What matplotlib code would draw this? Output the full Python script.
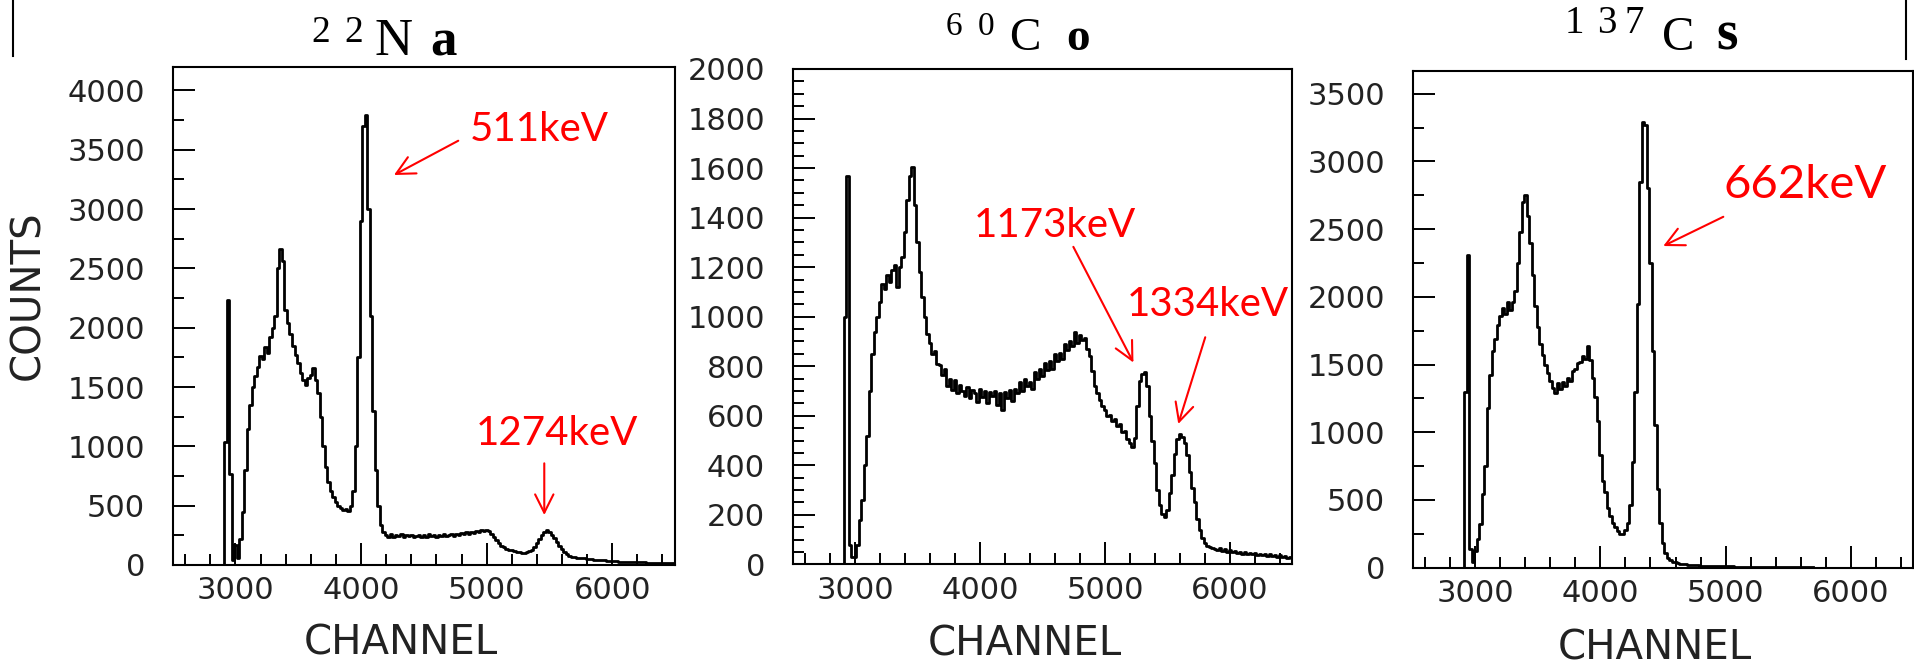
import numpy as np
import matplotlib
matplotlib.use('Agg')
from matplotlib import pyplot as plt
from matplotlib.ticker import MultipleLocator
from matplotlib.lines import Line2D

# spectra, 20-channel bins starting at channel 2900
first_channel = 2900
bin_width = 20

na_counts = [
    0, 1040, 2230, 770, 40, 170, 60, 220, 450, 800,            # 2900
    1150, 1350, 1500, 1590, 1670, 1760, 1740, 1840, 1790, 1920,  # 3100
    2000, 2100, 2500, 2660, 2560, 2150, 2040, 1950, 1850, 1770,  # 3300
    1700, 1620, 1560, 1520, 1580, 1600, 1660, 1560, 1450, 1250,  # 3500
    1000, 830, 700, 620, 575, 530, 500, 480, 460, 470,           # 3700
    455, 500, 620, 1000, 1750, 2900, 3700, 3790, 3000, 2100,     # 3900
    1300, 800, 500, 340, 275, 255, 240, 258, 236, 252,           # 4100
    244, 262, 238, 250, 242, 256, 235, 248, 255, 240,            # 4300
    252, 238, 258, 245, 250, 238, 255, 246, 260, 242,            # 4500
    250, 262, 248, 258, 252, 268, 260, 275, 265, 280,            # 4700
    272, 290, 278, 295, 285, 298, 285, 260, 238, 210,            # 4900
    185, 162, 150, 138, 128, 125, 118, 112, 108, 100,            # 5100
    104, 110, 118, 130, 155, 185, 215, 250, 275, 292,            # 5300
    280, 255, 225, 190, 160, 135, 110, 92, 78, 70,               # 5500
    66, 62, 60, 58, 56, 52, 50, 48, 46, 45,                      # 5700
    42, 40, 38, 36, 34, 32, 30, 30, 28, 28,                      # 5900
    27, 26, 25, 25, 24, 24, 23, 22, 22, 21,                      # 6100
    20, 20, 19, 18, 18, 17, 17, 16, 16, 15,                      # 6300
    15]

co_counts = [
    0, 1000, 1570, 80, 30, 30, 80, 180, 260, 400,                # 2900
    520, 700, 850, 940, 1000, 1060, 1130, 1110, 1170, 1140,      # 3100
    1190, 1210, 1120, 1200, 1240, 1340, 1470, 1570, 1605, 1450,  # 3300
    1300, 1180, 1080, 1000, 930, 895, 850, 860, 810, 805,        # 3500
    765, 790, 720, 750, 705, 745, 690, 725, 700, 680,            # 3700
    715, 670, 705, 690, 655, 710, 675, 700, 650, 695,            # 3900
    680, 700, 645, 690, 625, 695, 670, 705, 660, 710,            # 4100
    690, 735, 700, 750, 720, 735, 710, 775, 750, 790,            # 4300
    760, 815, 785, 820, 790, 850, 820, 855, 830, 890,            # 4500
    865, 900, 880, 940, 895, 925, 905, 915, 870, 840,            # 4700
    780, 720, 690, 665, 640, 625, 600, 605, 580, 585,            # 4900
    560, 565, 535, 540, 505, 490, 475, 510, 640, 740,            # 5100
    770, 775, 720, 600, 500, 410, 300, 240, 205, 190,            # 5300
    220, 290, 360, 445, 505, 525, 515, 490, 440, 375,            # 5500
    310, 250, 185, 140, 105, 85, 75, 70, 66, 64,                 # 5700
    60, 66, 55, 62, 52, 58, 50, 55, 46, 52,                      # 5900
    44, 50, 42, 48, 40, 45, 38, 44, 36, 42,                      # 6100
    35, 40, 33, 38, 30, 36, 28, 34, 27, 31,                      # 6300
    25]

cs_counts = [
    0, 1300, 2310, 140, 40, 120, 210, 320, 540, 750,             # 2900
    1180, 1420, 1600, 1690, 1790, 1860, 1920, 1870, 1960, 1900,  # 3100
    1960, 2040, 2250, 2480, 2700, 2750, 2600, 2400, 2160, 1930,  # 3300
    1780, 1650, 1570, 1500, 1440, 1380, 1330, 1290, 1360, 1320,  # 3500
    1370, 1340, 1400, 1380, 1450, 1470, 1510, 1520, 1560, 1540,  # 3700
    1640, 1530, 1400, 1260, 1080, 830, 640, 560, 440, 380,       # 3900
    330, 300, 270, 245, 250, 275, 330, 460, 780, 1300,           # 4100
    1950, 2850, 3290, 3270, 2800, 2250, 1600, 1050, 580, 330,    # 4300
    180, 110, 70, 55, 45, 40, 35, 30, 28, 25,                    # 4500
    22, 20, 18, 17, 16, 15, 14, 13, 12, 12,                      # 4700
    12, 11, 11, 10, 10, 10, 9, 9, 9, 8,                          # 4900
    8, 8, 8, 7, 7, 7, 7, 6, 6, 6,                                # 5100
    6, 6, 5, 5, 5, 5, 5, 5, 4, 4,                                # 5300
    4, 4, 4, 4, 4, 4, 4, 4, 3, 3,                                # 5500
    3]

ymax = [4200, 2000, 3670]
ymajor = [500, 200, 500]
yminor = [250, 50, 250]

# peak labels: (text, text x, text y, arrow tail, arrow head)
na_peaks = [('511keV', 4862, 3576, (4774, 3576), (4262, 3287)),
            ('1274keV', 4915, 1011, (5459, 857), (5459, 421))]
co_peaks = [('1173keV', 3950, 1320, (4747, 1282), (5228, 815)),
            ('1334keV', 5172, 1003, (5803, 917), (5587, 567))]
cs_peaks = [('662keV', 4982, 2727, (4982, 2591), (4502, 2375))]
peak_sizes = [29, 29, 34]

W, H = 1915, 665
fig = plt.figure(figsize=(W / 100, H / 100), dpi=100)

# axes boxes in pixels: left, top, right, bottom
boxes = [(172.7, 66.7, 675.0, 565.0),
         (792.7, 69.0, 1292.3, 564.4),
         (1412.7, 70.7, 1913.3, 567.6)]
channel_label_pos = [(0.4545, -0.157), (0.4646, -0.162), (0.483, -0.162)]

spectra = [na_counts, co_counts, cs_counts]
peaks = [na_peaks, co_peaks, cs_peaks]

for i in range(3):
    l, t, r, b = boxes[i]
    ax = fig.add_axes([l / W, (H - b) / H, (r - l) / W, (b - t) / H])
    counts = np.array(spectra[i])
    ch = first_channel + bin_width * np.arange(len(counts))
    ax.step(ch, counts, where='mid', color='black', lw=2.0)
    ax.set_xlim(2500, 6500)
    ax.set_ylim(0, ymax[i])
    ax.xaxis.set_major_locator(MultipleLocator(1000))
    ax.xaxis.set_minor_locator(MultipleLocator(200))
    ax.yaxis.set_major_locator(MultipleLocator(ymajor[i]))
    ax.yaxis.set_minor_locator(MultipleLocator(yminor[i]))
    ax.tick_params(which='both', direction='in', top=False, right=False,
                   width=1.4, color='black')
    ax.tick_params(which='major', length=15.8, labelsize=22, labelcolor='#222222')
    ax.tick_params(which='minor', length=7.9)
    ax.tick_params(axis='y', pad=20)
    ax.tick_params(axis='x', pad=8)
    for sp in ax.spines.values():
        sp.set_linewidth(1.5)
    cx, cy = channel_label_pos[i]
    ax.text(cx, cy, 'CHANNEL', transform=ax.transAxes, ha='center', va='center',
            fontsize=29, color='#222222')
    for label, tx, ty, tail, head in peaks[i]:
        ax.text(tx, ty, label, color='red', fontsize=peak_sizes[i], family='Lato',
                ha='left', va='baseline', clip_on=False)
        ax.annotate('', xy=head, xytext=tail, annotation_clip=False,
                    arrowprops=dict(arrowstyle='->,head_length=0.6,head_width=0.3',
                                    color='red', lw=1.5, mutation_scale=22,
                                    shrinkA=0, shrinkB=0))
    if i == 0:
        ax.text(-0.288, 0.542, 'COUNTS', transform=ax.transAxes, rotation=90,
                ha='center', va='center', fontsize=29, color='#222222')

# titles, piece by piece (superscript mass number + element symbol)
def put(x, y, s, size, weight='normal'):
    fig.text(x / W, 1 - y / H, s, fontsize=size, fontweight=weight,
             family='Liberation Serif', ha='left', va='baseline')

put(311, 42, '2', 27); put(344, 42, '2', 27)
put(374, 55, 'N', 38); put(430, 55, 'a', 38, 'bold')
put(946, 35, '6', 24); put(978, 35, '0', 24)
put(1009, 50, 'C', 34); put(1066, 50, 'o', 34, 'bold')
put(1565, 33, '1', 28); put(1597, 33, '3', 28); put(1625, 33, '7', 28)
put(1662, 50, 'C', 35); put(1716, 50, 's', 40, 'bold')

# border fragments at the top corners
fig.add_artist(Line2D([13.3 / W] * 2, [1, 1 - 56 / H], transform=fig.transFigure,
                      color='black', lw=1.5))
fig.add_artist(Line2D([1906 / W] * 2, [1, 1 - 59 / H], transform=fig.transFigure,
                      color='black', lw=1.5))

fig.savefig('out.png', dpi=100)
